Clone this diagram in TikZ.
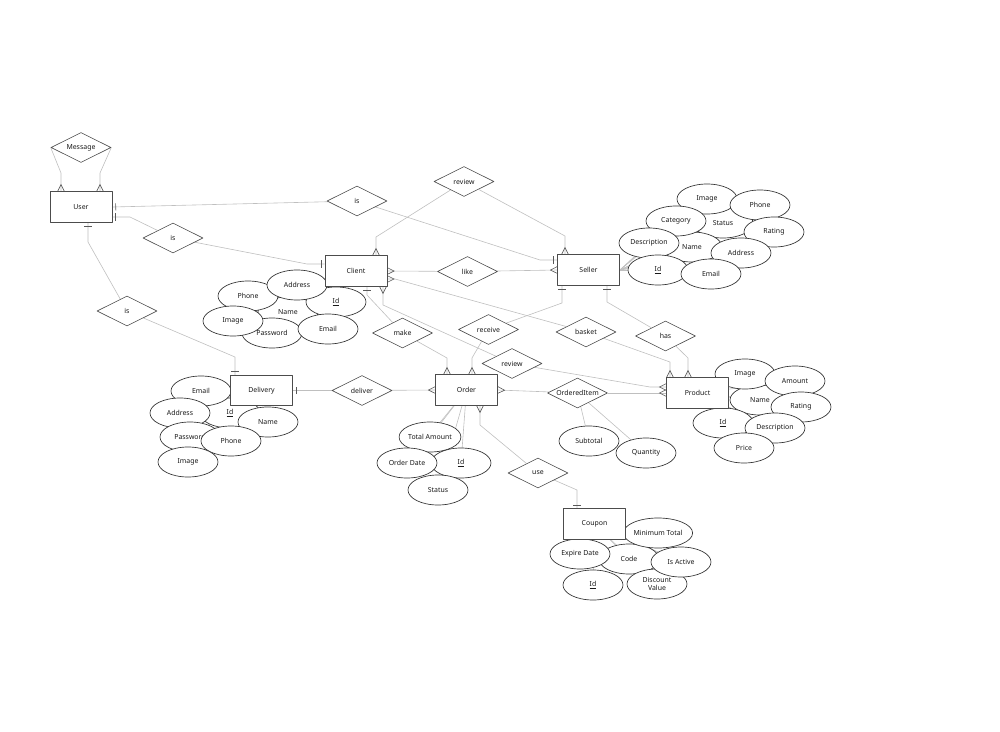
\documentclass[tikz,border=0pt]{standalone}
\usepackage{fontspec}
\setmainfont{Noto Sans}
\usetikzlibrary{shapes.geometric,arrows.meta}
\pgfdeclarelayer{bg}
\pgfsetlayers{bg,main}

% crow's foot (many) and bar (one) ends
\pgfdeclarearrow{
  name = ermany,
  parameters = {\the\pgfarrowlength,\the\pgfarrowwidth},
  setup code = {
    \pgfarrowssettipend{0pt}
    \pgfarrowssetlineend{0pt}
    \pgfarrowssetbackend{-\pgfarrowlength}
    \pgfarrowshullpoint{0pt}{.5\pgfarrowwidth}
    \pgfarrowshullpoint{0pt}{-.5\pgfarrowwidth}
    \pgfarrowshullpoint{-\pgfarrowlength}{0pt}
    \pgfarrowssavethe\pgfarrowlength
    \pgfarrowssavethe\pgfarrowwidth
  },
  drawing code = {
    \pgfpathmoveto{\pgfqpoint{0pt}{.5\pgfarrowwidth}}
    \pgfpathlineto{\pgfqpoint{-\pgfarrowlength}{0pt}}
    \pgfpathlineto{\pgfqpoint{0pt}{-.5\pgfarrowwidth}}
    \pgfusepathqstroke
  },
  defaults = {length=5pt, width=5pt}
}
\pgfdeclarearrow{
  name = erone,
  parameters = {\the\pgfarrowlength,\the\pgfarrowwidth},
  setup code = {
    \pgfarrowssettipend{0pt}
    \pgfarrowssetlineend{0pt}
    \pgfarrowssetbackend{-\pgfarrowlength}
    \pgfarrowshullpoint{-\pgfarrowlength}{.5\pgfarrowwidth}
    \pgfarrowshullpoint{-\pgfarrowlength}{-.5\pgfarrowwidth}
    \pgfarrowssavethe\pgfarrowlength
    \pgfarrowssavethe\pgfarrowwidth
  },
  drawing code = {
    \pgfpathmoveto{\pgfqpoint{-\pgfarrowlength}{.5\pgfarrowwidth}}
    \pgfpathlineto{\pgfqpoint{-\pgfarrowlength}{-.5\pgfarrowwidth}}
    \pgfusepathqstroke
  },
  defaults = {length=2.5pt, width=5.5pt}
}

\begin{document}
\begin{tikzpicture}[x=0.75pt,y=-0.75pt, font=\fontsize{5.2}{6.2}\selectfont, text=black!90,
    line join=round,
    entity/.style={draw=black!70, line width=0.6pt, fill=white, minimum width=46.5pt, minimum height=23pt, inner sep=0pt},
    rel/.style={diamond, aspect=2, draw=black!70, line width=0.45pt, fill=white, minimum width=45pt, minimum height=22.5pt, inner sep=0pt},
    attr/.style={ellipse, draw=black!80, line width=0.5pt, fill=white, minimum width=45pt, minimum height=22.5pt, inner sep=0pt, align=center},
    link/.style={draw=black!25, line width=0.45pt},
    many/.style={-{ermany[color=black!65]}},
    manyat/.style={{ermany[color=black!65]}-},
    one/.style={-{erone[color=black!65]}},
    oneat/.style={{erone[color=black!65]}-}]
  \useasboundingbox (0,0) rectangle (1000,732);

  % relationships
  \node[rel] (msg) at (81,147.5) {Message};
  \node[rel] (is1) at (357,201) {is};
  \node[rel] (is2) at (173,238) {is};
  \node[rel] (is3) at (127,311) {is};
  \node[rel] (rev1) at (464,181.5) {review};
  \node[rel] (like) at (467.5,271.5) {like};
  \node[rel] (make) at (402.5,333) {make};
  \node[rel] (receive) at (488.5,329.5) {receive};
  \node[rel] (basket) at (586,332) {basket};
  \node[rel] (has) at (665.5,336) {has};
  \node[rel] (rev2) at (512,363.5) {review};
  \node[rel] (deliver) at (362,390.5) {deliver};
  \node[rel] (oitem) at (577.5,393) {OrderedItem};
  \node[rel] (use) at (538,473) {use};

  % client attributes
  \node[attr] (cName) at (288,312) {Name};
  \node[attr] (cPass) at (272,333) {Password};
  \node[attr] (cPhone) at (248,296) {Phone};
  \node[attr] (cId) at (336,302) {\underline{Id}};
  \node[attr] (cAddr) at (297,285) {Address};
  \node[attr] (cEmail) at (328,329) {Email};
  \node[attr] (cImage) at (233,321) {Image};

  % seller attributes
  \node[attr] (sStatus) at (723,223) {Status};
  \node[attr] (sName) at (692,247) {Name};
  \node[attr] (sImage) at (707,199) {Image};
  \node[attr] (sPhone) at (760,205) {Phone};
  \node[attr] (sCat) at (676,221) {Category};
  \node[attr] (sDesc) at (649,243) {Description};
  \node[attr] (sRating) at (774,232) {Rating};
  \node[attr] (sAddr) at (741,253) {Address};
  \node[attr] (sId) at (658,270) {\underline{Id}};
  \node[attr] (sEmail) at (711,274) {Email};

  % delivery attributes
  \node[attr] (dId) at (230,413) {\underline{Id}};
  \node[attr] (dEmail) at (201,391) {Email};
  \node[attr] (dAddr) at (180,413) {Address};
  \node[attr] (dName) at (268,422) {Name};
  \node[attr] (dPass) at (190,437) {Password};
  \node[attr] (dPhone) at (231,441) {Phone};
  \node[attr] (dImage) at (188,462) {Image};

  % order attributes
  \node[attr] (oId) at (461,463) {\underline{Id}};
  \node[attr] (oTotal) at (430,437) {Total Amount};
  \node[attr] (oDate) at (407,463) {Order Date};
  \node[attr] (oStatus) at (438,490) {Status};

  % product attributes
  \node[attr] (pName) at (760,400) {Name};
  \node[attr] (pImage) at (745,374) {Image};
  \node[attr] (pAmount) at (795,381) {Amount};
  \node[attr] (pRating) at (801,407) {Rating};
  \node[attr] (pId) at (723,423) {\underline{Id}};
  \node[attr] (pDesc) at (775,428) {Description};
  \node[attr] (pPrice) at (744,448) {Price};

  % ordered item attributes
  \node[attr] (iSub) at (589,441) {Subtotal};
  \node[attr] (iQty) at (646,453) {Quantity};

  % coupon attributes
  \node[attr] (kCode) at (629,559) {Code};
  \node[attr] (kMin) at (658,533) {Minimum Total};
  \node[attr] (kExp) at (580,554) {Expire Date};
  \node[attr] (kId) at (593,585) {\underline{Id}};
  \node[attr] (kDisc) at (657,584) {Discount\\Value};
  \node[attr] (kActive) at (681,562) {Is Active};

  % entities
  \node[entity] (User) at (81,207) {User};
  \node[entity] (Client) at (356,271) {Client};
  \node[entity] (Seller) at (588.5,270) {Seller};
  \node[entity] (Delivery) at (261.5,390.5) {Delivery};
  \node[entity] (Order) at (466.5,390) {Order};
  \node[entity] (Product) at (697.5,393) {Product};
  \node[entity] (Coupon) at (594.5,524) {Coupon};

  % bend points
  \coordinate (msgL) at (61,173);
  \coordinate (msgR) at (100,173);
  \coordinate (isS) at (540,260);
  \coordinate (uis) at (130,217);
  \coordinate (isC) at (307,264);
  \coordinate (uid) at (88,242);
  \coordinate (isD) at (235,357);
  \coordinate (rvC) at (376,237);
  \coordinate (rvS) at (565,236);
  \coordinate (bkC) at (395,279);
  \coordinate (bkP) at (670,362);
  \coordinate (hsS) at (607,302);
  \coordinate (hsP) at (688,358);
  \coordinate (rcS) at (562,303);
  \coordinate (rcO) at (472,358);
  \coordinate (mkC) at (367,295);
  \coordinate (mkO) at (447,358);
  \coordinate (rvC2) at (383,305);
  \coordinate (rvP) at (650,387);
  \coordinate (usO) at (480,425);
  \coordinate (usC) at (577,490);

  \begin{pgfonlayer}{bg}
    % attribute links
    \foreach \e/\a in {Client/cName,Client/cPass,Client/cPhone,Client/cId,Client/cAddr,Client/cEmail,Client/cImage,
        Seller.east/sStatus,Seller.east/sName,Seller.east/sImage,Seller.east/sPhone,Seller.east/sCat,
        Seller.east/sDesc,Seller.east/sRating,Seller.east/sAddr,Seller.east/sId,Seller.east/sEmail,
        Delivery/dId,Delivery/dEmail,Delivery/dAddr,Delivery/dName,Delivery/dPass,Delivery/dPhone,Delivery/dImage,
        Order/oId,Order/oTotal,Order/oDate,Order/oStatus,
        Product/pName,Product/pImage,Product/pAmount,Product/pRating,Product/pId,Product/pDesc,Product/pPrice,
        oitem/iSub,oitem/iQty,
        Coupon/kCode,Coupon/kMin,Coupon/kExp,Coupon/kId,Coupon/kDisc,Coupon/kActive}
      \draw[link] (\e) -- (\a.center);

    % relationship links
    \draw[link,many] (msg.west) -- (msgL) -- (msgL |- User.north);
    \draw[link,many] (msg.east) -- (msgR) -- (msgR |- User.north);
    \draw[link,oneat] (User.east) -- (is1);
    \draw[link,one] (is1) -- (isS) -- (isS -| Seller.west);
    \draw[link,oneat] (uis -| User.east) -- (uis) -- (is2);
    \draw[link,one] (is2) -- (isC) -- (isC -| Client.west);
    \draw[link,oneat] (uid |- User.south) -- (uid) -- (is3);
    \draw[link,one] (is3) -- (isD) -- (isD |- Delivery.north);
    \draw[link,manyat] (rvC |- Client.north) -- (rvC) -- (rev1);
    \draw[link,many] (rev1) -- (rvS) -- (rvS |- Seller.north);
    \draw[link,manyat] (Client.east) -- (like);
    \draw[link,many] (like) -- (Seller.west);
    \draw[link,manyat] (bkC -| Client.east) -- (bkC) -- (basket);
    \draw[link,many] (basket) -- (bkP) -- (bkP |- Product.north);
    \draw[link,oneat] (hsS |- Seller.south) -- (hsS) -- (has);
    \draw[link,many] (has) -- (hsP) -- (hsP |- Product.north);
    \draw[link,oneat] (rcS |- Seller.south) -- (rcS) -- (receive);
    \draw[link,many] (receive) -- (rcO) -- (rcO |- Order.north);
    \draw[link,oneat] (mkC |- Client.south) -- (mkC) -- (make);
    \draw[link,many] (make) -- (mkO) -- (mkO |- Order.north);
    \draw[link,manyat] (rvC2 |- Client.south) -- (rvC2) -- (rev2);
    \draw[link,many] (rev2) -- (rvP) -- (rvP -| Product.west);
    \draw[link,oneat] (Delivery.east) -- (deliver);
    \draw[link,many] (deliver) -- (Order.west);
    \draw[link,manyat] (Order.east) -- (oitem);
    \draw[link,many] (oitem) -- (oitem -| Product.west);
    \draw[link,manyat] (usO |- Order.south) -- (usO) -- (use);
    \draw[link,one] (use) -- (usC) -- (usC |- Coupon.north);
  \end{pgfonlayer}
\end{tikzpicture}
\end{document}
